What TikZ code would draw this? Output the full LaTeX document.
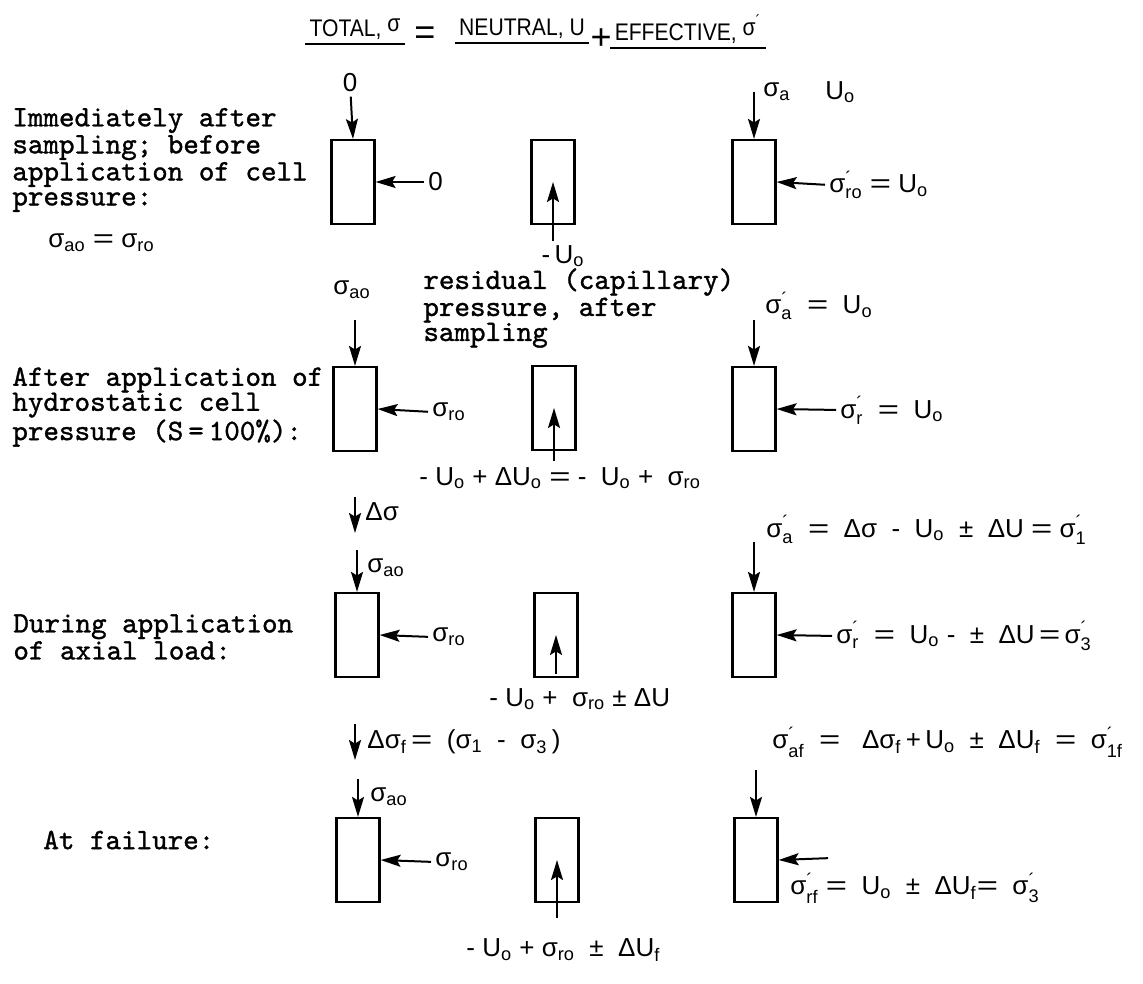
\documentclass[tikz,border=0pt]{standalone}
\usepackage{amsmath}
\usepackage{graphicx}
\usepackage{fontspec}
\setmainfont{Liberation Sans}
\newfontfamily\typewr{lmmono10-regular.otf}[FakeBold=1.2]
\usepackage{tikz}
\usetikzlibrary{arrows.meta}

% macros para las tensiones
\newcommand{\sgsub}[1]{σ\textsubscript{#1}}
\newcommand{\sgpr}[1]{\ensuremath{\text{σ}^{\text{´}}_{\text{#1}}}}
\newcommand{\uo}{U\textsubscript{o}}
\newcommand{\eq}{\scalebox{1.4}[1]{=}}
\newcommand{\hd}[1]{\scalebox{0.88}[1]{#1}}

\begin{document}
\begin{tikzpicture}[
    x=0.5pt, y=-0.5pt,
    >={Stealth[length=10pt,width=6pt,inset=1.8pt]},
    % Estilo para las probetas
    specimen/.style={
        draw,
        line width=1.1pt,
        minimum width=21.5pt,
        minimum height=42pt,
        inner sep=0pt
    },
    % Estilo para las flechas de carga
    load/.style={->, line width=1pt, shorten <=2pt},
    % Estilo para las etiquetas
    lbl/.style={
        font=\fontsize{13}{15}\selectfont,
        inner sep=0pt,
        anchor=west
    },
    % Estilo para el texto a maquina
    note/.style={
        font=\typewr\fontsize{14.8}{12.5}\selectfont,
        align=left,
        inner sep=0pt,
        anchor=west
    },
    % Estilo para la cabecera
    head/.style={
        font=\fontsize{12}{14}\selectfont,
        inner sep=2pt
    }
]
    \useasboundingbox (0,0) rectangle (1143,983);

    % ==========================================
    % CABECERA
    % ==========================================
    \node[head] (total) at (355,29) {\hd{TOTAL, \raisebox{0.4ex}{σ}}};
    \node[font=\fontsize{18}{18}\selectfont] (eq) at (425,36) {=};
    \node[head] (neutral) at (522,29) {\hd{NEUTRAL, U}};
    \node[font=\fontsize{18}{18}\selectfont] (plus) at (601,39) {+};
    \node[head] (effective) at (688,29) {\hd{EFFECTIVE, \raisebox{0.4ex}{σ\textsuperscript{´}}}};
    \draw[line width=1.2pt] (total.south west) -- (total.south east);
    \draw[line width=1.2pt] (neutral.south west) -- (neutral.south east);
    \draw[line width=1.2pt] (effective.south west) -- (effective.south east);

    % ==========================================
    % FILA 1: DESPUES DEL MUESTREO
    % ==========================================
    \node[note] (txt1) at (12,160) {Immediately after\\sampling; before\\application of cell\\pressure:};
    \node[lbl] (txt1b) at (48,243) {\sgsub{ao}\ \eq\ \sgsub{ro}};

    % total
    \node[specimen] (tot1) at (353,182) {};
    \node[lbl, anchor=center] (tot1a) at (350,83) {0};
    \node[lbl] (tot1r) at (428,182) {0};
    \draw[load] (tot1a) -- (tot1.north);
    \draw[load] (tot1r.west) -- (tot1.east);

    % neutra
    \node[specimen] (neu1) at (553,182) {};
    \node[lbl, anchor=center] (neu1b) at (563,256) {-\,\uo};
    \draw[load] (neu1b.north -| neu1) -- (neu1.center);

    % efectiva
    \node[specimen] (eff1) at (754,182) {};
    \coordinate (eff1t) at (754,88);
    \node[lbl] (eff1a) at (763,92) {\sgsub{a}};
    \node[lbl] (eff1u) at (825,92) {\uo};
    \node[lbl] (eff1r) at (829,185) {\sgpr{ro}\ \eq\ \uo};
    \draw[load] (eff1t) -- (eff1.north);
    \draw[load] (eff1r.west) -- (eff1.east);

    \node[note, anchor=north west] (resid) at (423,268) {residual (capillary)\\pressure, after\\sampling};

    % ==========================================
    % FILA 2: PRESION DE CELDA
    % ==========================================
    \node[note] (txt2) at (12,407) {After application of\\hydrostatic cell\\pressure (S\,=\,100\%):};

    % total
    \node[specimen] (tot2) at (355,409) {};
    \node[lbl, anchor=center] (tot2a) at (352,290) {\sgsub{ao}};
    \coordinate (tot2t) at (355,316);
    \node[lbl] (tot2r) at (432,412) {\sgsub{ro}};
    \draw[load] (tot2t) -- (tot2.north);
    \draw[load] (tot2r.west) -- (tot2.east);

    % neutra
    \node[specimen] (neu2) at (554,408) {};
    \coordinate (neu2t) at (554,465);
    \node[lbl] (neu2b) at (419,478) {-\ \uo\ +\ Δ\uo\ \eq\ -\ \ \uo\ +\ \ \sgsub{ro}};
    \draw[load] (neu2t) -- (neu2.center);

    % efectiva
    \node[specimen] (eff2) at (754,409) {};
    \coordinate (eff2t) at (754,316);
    \node[lbl] (eff2a) at (765,306) {\sgpr{a}\ \ \eq\ \ \uo};
    \node[lbl] (eff2r) at (840,410) {\sgpr{r}\ \ \eq\ \ \uo};
    \draw[load] (eff2t) -- (eff2.north);
    \draw[load] (eff2r.west) -- (eff2.east);

    % incremento
    \coordinate (d1t) at (355,493);
    \coordinate (d1h) at (355,533);
    \node[lbl] (d1) at (365,512) {Δσ};
    \draw[load] (d1t) -- (d1h);

    % ==========================================
    % FILA 3: CARGA AXIAL
    % ==========================================
    \node[note] (txt3) at (13,637) {During application\\of axial load:};

    % total
    \node[specimen] (tot3) at (357,635) {};
    \coordinate (tot3t) at (357,546);
    \node[lbl] (tot3a) at (367,568) {\sgsub{ao}};
    \node[lbl] (tot3r) at (432,637) {\sgsub{ro}};
    \draw[load] (tot3t) -- (tot3.north);
    \draw[load] (tot3r.west) -- (tot3.east);

    % neutra
    \node[specimen] (neu3) at (556,635) {};
    \node[lbl] (neu3b) at (489,699) {-\ \uo\ +\ \ \sgsub{ro}\ ±\ ΔU};
    \draw[load] (neu3.south) -- (neu3.center);

    % efectiva
    \node[specimen] (eff3) at (754,635) {};
    \coordinate (eff3t) at (754,538);
    \node[lbl] (eff3a) at (766,530) {\sgpr{a}\ \ \eq\ \ Δσ\ \ -\ \ \uo\ \ ±\ \ ΔU\ \eq\ \sgpr{1}};
    \node[lbl] (eff3r) at (836,636) {\sgpr{r}\ \ \eq\ \ \uo\ -\ \ ±\ \ ΔU\,\eq\,\sgpr{3}};
    \draw[load] (eff3t) -- (eff3.north);
    \draw[load] (eff3r.west) -- (eff3.east);

    % incremento hasta la rotura
    \coordinate (d2t) at (355,720);
    \coordinate (d2h) at (355,760);
    \node[lbl] (d2) at (367,742) {Δσ\textsubscript{f}\,\eq\ \ (σ\textsubscript{1}\ \ -\ \ σ\textsubscript{3}\,)};
    \draw[load] (d2t) -- (d2h);

    % ==========================================
    % FILA 4: ROTURA
    % ==========================================
    \node[note] (txt4) at (43,840) {At failure:};

    % total
    \node[specimen] (tot4) at (358,860) {};
    \coordinate (tot4t) at (358,775);
    \node[lbl] (tot4a) at (370,797) {\sgsub{ao}};
    \node[lbl] (tot4r) at (435,862) {\sgsub{ro}};
    \draw[load] (tot4t) -- (tot4.north);
    \draw[load] (tot4r.west) -- (tot4.east);

    % neutra
    \node[specimen] (neu4) at (557,860) {};
    \coordinate (neu4t) at (557,922);
    \node[lbl] (neu4b) at (466,950) {-\ \uo\ +\ \sgsub{ro}\ \ ±\ \ ΔU\textsubscript{f}};
    \draw[load] (neu4t) -- (neu4.center);

    % efectiva
    \node[specimen] (eff4) at (756,860) {};
    \coordinate (eff4t) at (756,766);
    \coordinate (eff4s) at (832,858);
    \node[lbl] (eff4a) at (772,742) {\sgpr{af}\ \ \eq\ \ \ Δσ\textsubscript{f}\,+\,\uo\ \ ±\ \ ΔU\textsubscript{f}\ \ \eq\ \ \sgpr{1f}};
    \node[lbl] (eff4r) at (790,888) {\sgpr{rf}\ \eq\ \ \uo\ \ ±\ \ ΔU\textsubscript{f}\eq\ \ \sgpr{3}};
    \draw[load] (eff4t) -- (eff4.north);
    \draw[load] (eff4s) -- (eff4.east);

\end{tikzpicture}
\end{document}
